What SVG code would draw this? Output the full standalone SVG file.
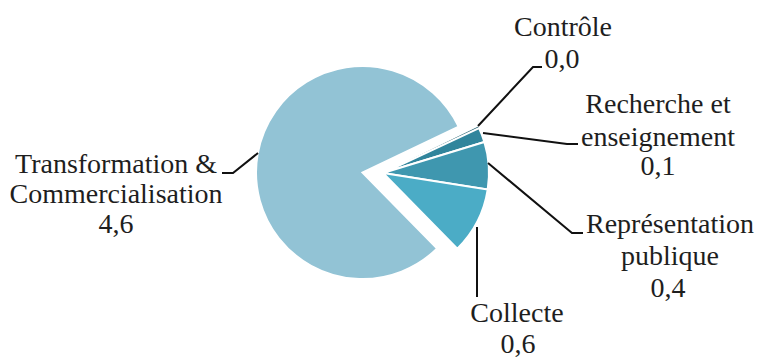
<svg xmlns="http://www.w3.org/2000/svg" width="758" height="358" viewBox="0 0 758 358">
<style>
.sl{stroke:#fff;stroke-width:2;stroke-linejoin:miter}
.ld{fill:none;stroke:#111;stroke-width:2}
text{font-family:"Liberation Serif","Times New Roman",serif;font-size:28px;fill:#1e1e1e;text-anchor:middle}
</style>
<rect width="758" height="358" fill="#fff"/>
<g id="slice-transformation">
<path class="sl" fill="#92C3D5" d="M362.5,172.5 L437.15,248.47 A106.5,106.5 0 1 1 458.63,126.65 Z"/>
</g>
<g id="slice-controle">
<path fill="#215E6E" d="M383,173 L478.27,126.53 A106,106 0 0 1 479.07,128.2 Z"/>
</g>
<g id="slice-recherche">
<path class="sl" fill="#31859C" d="M383,173 L479.07,128.2 A106,106 0 0 1 484.37,142.0 Z"/>
</g>
<g id="slice-representation">
<path class="sl" fill="#3F97AF" d="M383,173 L484.37,142.0 A106,106 0 0 1 487.69,189.58 Z"/>
</g>
<g id="slice-collecte">
<path class="sl" fill="#4BACC6" d="M383,173 L487.69,189.58 A106,106 0 0 1 457.30,248.61 Z"/>
</g>
<g id="connectors">
<polyline class="ld" points="478,126 533,67 542,67"/>
<polyline class="ld" points="483,133 567,144 578,144"/>
<polyline class="ld" points="488,163 572,233 583,233"/>
<polyline class="ld" points="477,227 477,297"/>
<polyline class="ld" points="258,153 233,173 222,173"/>
</g>
<g id="label-controle">
<text x="563" y="36">Contrôle</text>
<text x="562" y="68">0,0</text>
</g>
<g id="label-recherche">
<text x="658" y="113">Recherche et</text>
<text x="658" y="146">enseignement</text>
<text x="658" y="175">0,1</text>
</g>
<g id="label-representation">
<text x="670" y="233">Représentation</text>
<text x="670" y="265">publique</text>
<text x="668" y="297">0,4</text>
</g>
<g id="label-collecte">
<text x="517" y="322">Collecte</text>
<text x="518" y="353">0,6</text>
</g>
<g id="label-transformation">
<text x="116" y="173">Transformation &amp;</text>
<text x="116" y="203">Commercialisation</text>
<text x="116" y="233">4,6</text>
</g>
</svg>
